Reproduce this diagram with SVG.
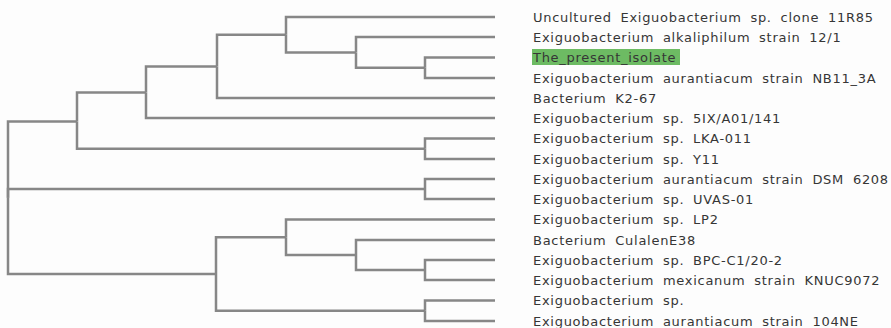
<svg xmlns="http://www.w3.org/2000/svg" width="891" height="328" viewBox="0 0 891 328">
<style>
.e{fill:none;stroke:#878787;stroke-width:2.5;stroke-linejoin:miter}
.t{font-family:"DejaVu Sans",Verdana,sans-serif;font-size:13px;fill:#363636;letter-spacing:0.72px;word-spacing:4px}
</style>
<rect width="891" height="328" fill="#fdfdfd"/>
<g id="connectors">
<path class="e" d="M8 197.7V121.5H77"/>
<path class="e" d="M8 197.7V189H425"/>
<path class="e" d="M8 197.7V274H216"/>
<path class="e" d="M77 121.5V92.5H146"/>
<path class="e" d="M77 121.5V148.7H425"/>
<path class="e" d="M146 92.5V66.4H217"/>
<path class="e" d="M146 92.5V118H495"/>
<path class="e" d="M217 66.4V34.7H286"/>
<path class="e" d="M217 66.4V98H495"/>
<path class="e" d="M286 34.7V17H495"/>
<path class="e" d="M286 34.7V52.5H356"/>
<path class="e" d="M356 52.5V37H495"/>
<path class="e" d="M356 52.5V67.7H425"/>
<path class="e" d="M425 67.7V57.5H495"/>
<path class="e" d="M425 67.7V78H495"/>
<path class="e" d="M425 148.7V138.5H495"/>
<path class="e" d="M425 148.7V159H495"/>
<path class="e" d="M425 189V179H495"/>
<path class="e" d="M425 189V199H495"/>
<path class="e" d="M216 274V237.3H286"/>
<path class="e" d="M216 274V310.7H425"/>
<path class="e" d="M286 237.3V219.5H495"/>
<path class="e" d="M286 237.3V255H356"/>
<path class="e" d="M356 255V240H495"/>
<path class="e" d="M356 255V270H425"/>
<path class="e" d="M425 270V260H495"/>
<path class="e" d="M425 270V280H495"/>
<path class="e" d="M425 310.7V300.5H495"/>
<path class="e" d="M425 310.7V321H495"/>
</g>
<g id="leaf1"><text class="t" x="533" y="21.5">Uncultured Exiguobacterium sp. clone 11R85</text></g>
<g id="leaf2"><text class="t" x="533" y="41.5">Exiguobacterium alkaliphilum strain 12/1</text></g>
<g id="leaf3"><rect x="532" y="49" width="148" height="16" fill="#6dbb63"/><text class="t" x="533" y="62">The_present_isolate</text></g>
<g id="leaf4"><text class="t" x="533" y="82.5">Exiguobacterium aurantiacum strain NB11_3A</text></g>
<g id="leaf5"><text class="t" x="533" y="102.5">Bacterium K2-67</text></g>
<g id="leaf6"><text class="t" x="533" y="122.5">Exiguobacterium sp. 5IX/A01/141</text></g>
<g id="leaf7"><text class="t" x="533" y="143">Exiguobacterium sp. LKA-011</text></g>
<g id="leaf8"><text class="t" x="533" y="163.5">Exiguobacterium sp. Y11</text></g>
<g id="leaf9"><text class="t" x="533" y="183.5">Exiguobacterium aurantiacum strain DSM 6208</text></g>
<g id="leaf10"><text class="t" x="533" y="203.5">Exiguobacterium sp. UVAS-01</text></g>
<g id="leaf11"><text class="t" x="533" y="224">Exiguobacterium sp. LP2</text></g>
<g id="leaf12"><text class="t" x="533" y="244.5">Bacterium CulalenE38</text></g>
<g id="leaf13"><text class="t" x="533" y="264.5">Exiguobacterium sp. BPC-C1/20-2</text></g>
<g id="leaf14"><text class="t" x="533" y="284.5">Exiguobacterium mexicanum strain KNUC9072</text></g>
<g id="leaf15"><text class="t" x="533" y="305">Exiguobacterium sp.</text></g>
<g id="leaf16"><text class="t" x="533" y="325.5">Exiguobacterium aurantiacum strain 104NE</text></g>
</svg>
